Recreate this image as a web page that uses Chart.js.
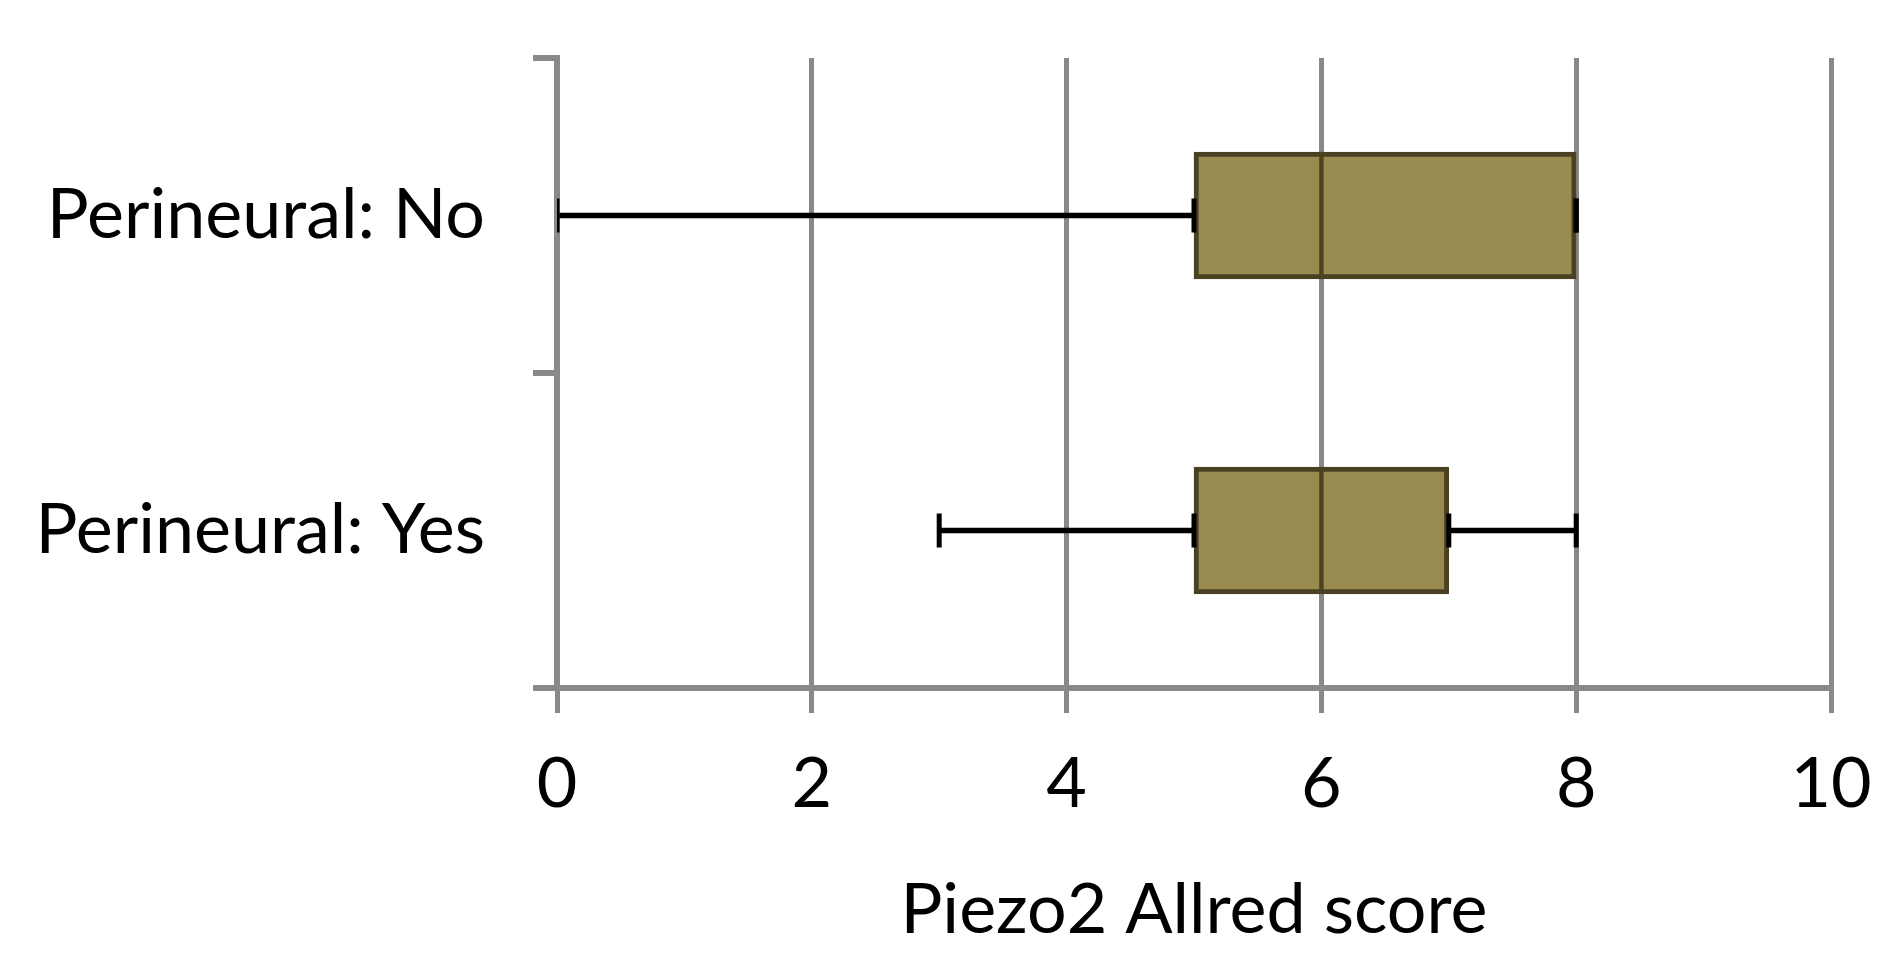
<!DOCTYPE html>
<html>
<head>
<meta charset="utf-8">
<script src="https://cdn.jsdelivr.net/npm/chart.js@4.4.1/dist/chart.umd.min.js"></script>
<style>
  html, body { margin: 0; padding: 0; background: #ffffff; }
  #wrap { width: 1890px; height: 956px; }
</style>
</head>
<body>
<div id="wrap"><canvas id="c" width="1890" height="956"></canvas></div>
<script>
const categories = ['Perineural: No', 'Perineural: Yes'];
const minValues = [0, 3];
const q1Values = [5, 5];
const medianValues = [6, 6];
const q3Values = [8, 7];
const maxValues = [8, 8];
const xTickValues = [0, 2, 4, 6, 8, 10];
const axisTitle = 'Piezo2 Allred score';

const GRID = '#898989';
const BOX_FILL = '#998a50';
const BOX_EDGE = '#4a4123';
const FONT = 'Lato';

const capPoints = [];
categories.forEach((c, i) => {
  [minValues[i], q1Values[i], q3Values[i], maxValues[i]].forEach(v => capPoints.push({ x: v, y: c }));
});

function zeroPad(s) {
  s.paddingTop = 0; s.paddingBottom = 0; s.paddingLeft = 0; s.paddingRight = 0;
}

new Chart(document.getElementById('c'), {
  type: 'bar',
  data: {
    labels: categories,
    datasets: [
      {
        label: 'whisker low',
        data: categories.map((c, i) => [minValues[i], q1Values[i]]),
        backgroundColor: '#000000',
        borderWidth: 0,
        barThickness: 5,
        grouped: false,
        order: 5
      },
      {
        label: 'whisker high',
        data: categories.map((c, i) => [q3Values[i], maxValues[i]]),
        backgroundColor: '#000000',
        borderWidth: 0,
        barThickness: 5,
        grouped: false,
        order: 4
      },
      {
        label: 'box lower',
        data: categories.map((c, i) => [q1Values[i], medianValues[i]]),
        backgroundColor: BOX_FILL,
        borderColor: BOX_EDGE,
        borderWidth: { top: 5, bottom: 5, left: 5, right: 2.5 },
        borderSkipped: false,
        barThickness: 127,
        grouped: false,
        order: 3
      },
      {
        label: 'box upper',
        data: categories.map((c, i) => [medianValues[i], q3Values[i]]),
        backgroundColor: BOX_FILL,
        borderColor: BOX_EDGE,
        borderWidth: { top: 5, bottom: 5, left: 2.5, right: 5 },
        borderSkipped: false,
        barThickness: 127,
        grouped: false,
        order: 2
      },
      {
        type: 'scatter',
        label: 'caps',
        data: capPoints,
        pointStyle: 'line',
        rotation: 90,
        radius: 17,
        borderWidth: 5,
        borderColor: '#000000',
        backgroundColor: '#000000',
        showLine: false,
        order: 1
      }
    ]
  },
  options: {
    indexAxis: 'y',
    responsive: false,
    animation: false,
    layout: { padding: { top: 58, right: 59, bottom: 0, left: 0 } },
    plugins: {
      legend: { display: false },
      tooltip: { enabled: false }
    },
    scales: {
      x: {
        type: 'linear',
        position: 'bottom',
        min: 0,
        max: 10,
        afterFit: (s) => { s.height = 268; zeroPad(s); },
        afterBuildTicks: (s) => { s.ticks = xTickValues.map(v => ({ value: v })); },
        ticks: {
          color: '#000000',
          font: { family: FONT, size: 70 },
          padding: 29
        },
        grid: {
          color: GRID,
          lineWidth: 5,
          tickLength: 25,
          drawTicks: true
        },
        border: { display: true, color: GRID, width: 6 },
        title: {
          display: true,
          text: axisTitle,
          color: '#000000',
          font: { family: FONT, size: 70 },
          padding: { top: 0, bottom: 4 }
        }
      },
      y: {
        type: 'category',
        position: 'left',
        offset: true,
        z: 1,
        afterFit: (s) => { s.width = 557; zeroPad(s); },
        ticks: {
          color: '#000000',
          font: { family: FONT, size: 70 },
          padding: 48
        },
        grid: {
          offset: true,
          drawOnChartArea: false,
          drawTicks: true,
          tickLength: 24,
          color: GRID,
          lineWidth: 6
        },
        border: { display: true, color: GRID, width: 6 }
      }
    }
  }
});
</script>
</body>
</html>
